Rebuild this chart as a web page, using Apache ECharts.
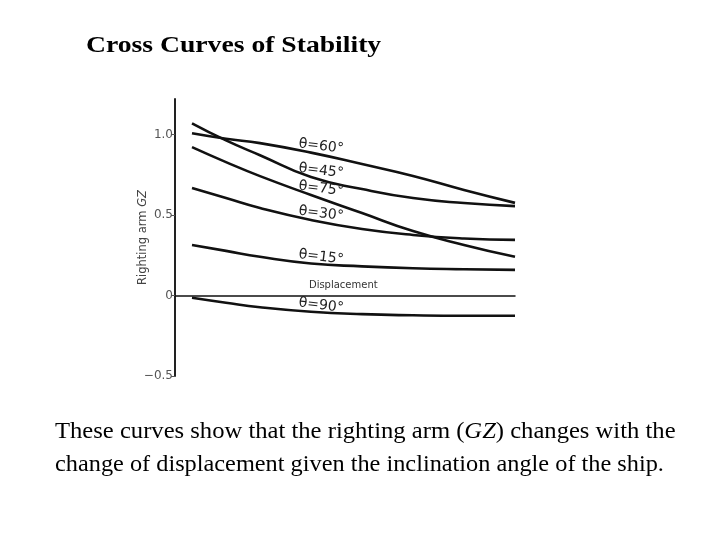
<!DOCTYPE html>
<html>
<head>
<meta charset="utf-8">
<script src="https://cdn.jsdelivr.net/npm/echarts@6/dist/echarts.min.js"></script>
<style>
  html, body { margin: 0; padding: 0; background: #fff; }
  #main { width: 720px; height: 540px; }
</style>
</head>
<body>
<div id="main"></div>
<script>
// displacement (arbitrary units) where the curves were read
const displacement = [0.5, 1.5, 2.5, 4, 5.5, 7, 8.5, 10];

// righting arm GZ for each inclination angle
const gz60 = [1.007, 0.973, 0.946, 0.887, 0.816, 0.742, 0.655, 0.575];
const gz45 = [1.069, 0.963, 0.871, 0.735, 0.661, 0.605, 0.574, 0.555];
const gz75 = [0.921, 0.828, 0.741, 0.624, 0.512, 0.400, 0.314, 0.240];
const gz30 = [0.667, 0.605, 0.543, 0.469, 0.413, 0.376, 0.354, 0.345];
const gz15 = [0.314, 0.277, 0.240, 0.199, 0.181, 0.169, 0.163, 0.159];
const gz90 = [-0.014, -0.045, -0.073, -0.101, -0.116, -0.123, -0.126, -0.126];

const curveNames = ['θ=60°', 'θ=45°', 'θ=75°', 'θ=30°', 'θ=15°', 'θ=90°'];
const curveValues = [gz60, gz45, gz75, gz30, gz15, gz90];

const yTickLabels = { '-0.5': '\u22120.5', '0': '0', '0.5': '0.5', '1': '1.0' };

const labelIndex = 3; // point where the angle label sits

const chart = echarts.init(document.getElementById('main'));

const series = curveNames.map((name, k) => ({
  name: name,
  type: 'line',
  smooth: true,
  symbol: 'circle',
  symbolSize: 1,
  itemStyle: { color: 'rgba(0,0,0,0)' },
  lineStyle: { color: '#111', width: 2.6 },
  silent: true,
  data: displacement.map((x, i) => {
    const item = { value: [x, curveValues[k][i]] };
    if (i === labelIndex) {
      item.label = {
        show: true,
        formatter: name,
        position: 'top',
        offset: [10, 5],
        rotate: -7,
        color: '#222',
        fontFamily: 'DejaVu Sans',
        fontSize: 14
      };
    }
    return item;
  })
}));

chart.setOption({
  backgroundColor: '#fff',
  animation: false,
  grid: { left: 175, right: 205, top: 99, bottom: 164 },
  xAxis: {
    type: 'value',
    min: 0,
    max: 10,
    axisLine: { onZero: true, lineStyle: { color: '#111', width: 1.5 } },
    axisTick: { show: false },
    axisLabel: { show: false },
    splitLine: { show: false }
  },
  yAxis: {
    type: 'value',
    min: -0.5,
    max: 1.22,
    interval: 0.5,
    name: '{a|Righting arm }{b|GZ}',
    nameLocation: 'middle',
    nameRotate: 90,
    nameGap: 26,
    nameMoveOverlap: false,
    nameTextStyle: {
      rich: {
        a: { fontFamily: 'DejaVu Sans', fontSize: 11.5, color: '#444' },
        b: { fontFamily: 'DejaVu Sans', fontSize: 11.5, fontStyle: 'italic', color: '#444' }
      }
    },
    axisLine: { show: true, lineStyle: { color: '#222', width: 2 } },
    axisTick: { show: true, length: 4, lineStyle: { color: '#555' } },
    axisLabel: {
      fontFamily: 'DejaVu Sans',
      fontSize: 12,
      color: '#555',
      margin: 2,
      showMaxLabel: false,
      formatter: v => {
        const key = String(Math.round(v * 10) / 10);
        return yTickLabels[key] !== undefined ? yTickLabels[key] : '';
      }
    },
    splitLine: { show: false }
  },
  series: series
});

// texts around the plot; the axis label sits just above the zero line
const zero = chart.convertToPixel({ xAxisIndex: 0, yAxisIndex: 0 }, [4.95, 0]);

chart.setOption({
  graphic: [
    {
      type: 'text',
      x: 86, y: 46, scaleX: 1.152,
      style: {
        text: 'Cross Curves of Stability',
        font: 'bold 24px "Liberation Serif"',
        fill: '#000',
        verticalAlign: 'middle'
      }
    },
    {
      type: 'text',
      x: zero[0], y: zero[1] - 10.5,
      style: {
        text: 'Displacement',
        font: '10px "DejaVu Sans"',
        fill: '#333',
        align: 'center',
        verticalAlign: 'middle'
      }
    },
    {
      type: 'text',
      x: 55, y: 432, scaleX: 1.07,
      style: {
        text: 'These curves show that the righting arm ({i|GZ}) changes with the',
        font: '23px "Liberation Serif"',
        fill: '#000',
        verticalAlign: 'middle',
        rich: {
          i: { fontFamily: 'Liberation Serif', fontStyle: 'italic', fontSize: 23, fill: '#000' }
        }
      }
    },
    {
      type: 'text',
      x: 55, y: 465, scaleX: 1.057,
      style: {
        text: 'change of displacement given the inclination angle of the ship.',
        font: '23px "Liberation Serif"',
        fill: '#000',
        verticalAlign: 'middle'
      }
    }
  ]
});
</script>
</body>
</html>
